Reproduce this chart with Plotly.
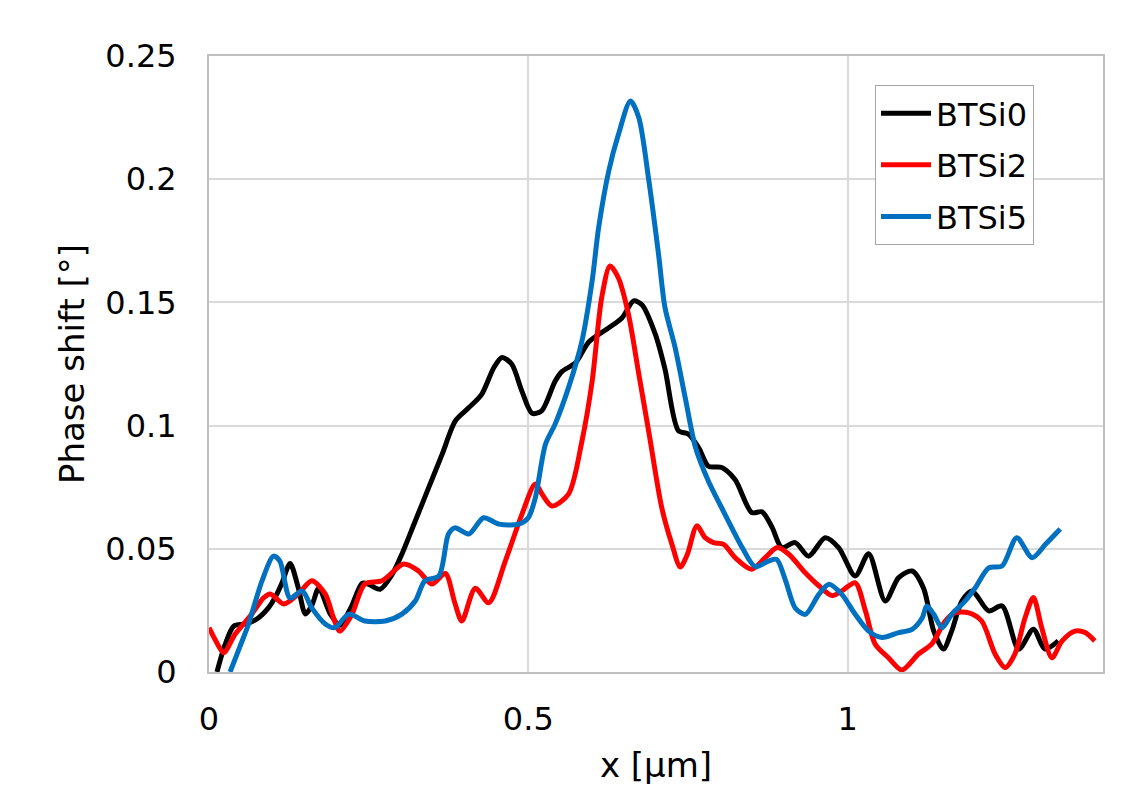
import plotly.graph_objects as go

# ---- data ----
x_btsi0 = [0.0125, 0.025, 0.039, 0.057, 0.075, 0.093, 0.105, 0.114, 0.127, 0.14, 0.151, 0.161, 0.172, 0.19,
           0.205, 0.222, 0.24, 0.25, 0.268, 0.287, 0.302, 0.323, 0.344, 0.365, 0.386, 0.407, 0.427, 0.446,
           0.459, 0.474, 0.49, 0.506, 0.521, 0.542, 0.553, 0.574, 0.595, 0.626, 0.647, 0.665, 0.678, 0.699,
           0.714, 0.735, 0.751, 0.767, 0.782, 0.803, 0.824, 0.85, 0.866, 0.882, 0.897, 0.918, 0.939, 0.965,
           0.986, 1.012, 1.033, 1.059, 1.08, 1.101, 1.119, 1.135, 1.15, 1.163, 1.179, 1.195, 1.221, 1.242,
           1.268, 1.291, 1.309, 1.33]
y_btsi0 = [0.0, 0.011, 0.0187, 0.0195, 0.0215, 0.026, 0.031, 0.036, 0.044, 0.034, 0.0235, 0.027, 0.034, 0.0235,
           0.019, 0.026, 0.036, 0.0356, 0.0336, 0.0397, 0.0478, 0.0613, 0.0748, 0.0883, 0.102, 0.1073, 0.1127,
           0.1235, 0.1276, 0.125, 0.114, 0.105, 0.106, 0.118, 0.122, 0.1255, 0.134, 0.1397, 0.1438, 0.1506,
           0.149, 0.137, 0.123, 0.098, 0.0965, 0.091, 0.0835, 0.083, 0.078, 0.0647, 0.065, 0.0586, 0.0505,
           0.0525, 0.047, 0.0545, 0.0505, 0.039, 0.048, 0.0288, 0.0383, 0.041, 0.034, 0.0166, 0.0093, 0.0166,
           0.0288, 0.0329, 0.0248, 0.0268, 0.0093, 0.0174, 0.0093, 0.0126]

x_btsi2 = [0.0, 0.012, 0.023, 0.041, 0.067, 0.085, 0.096, 0.117, 0.14, 0.161, 0.182, 0.195, 0.205, 0.224,
           0.244, 0.271, 0.305, 0.328, 0.349, 0.37, 0.385, 0.396, 0.417, 0.438, 0.464, 0.49, 0.511, 0.522,
           0.537, 0.563, 0.584, 0.6, 0.615, 0.628, 0.641, 0.657, 0.673, 0.689, 0.709, 0.725, 0.738, 0.749,
           0.764, 0.777, 0.79, 0.806, 0.824, 0.85, 0.871, 0.89, 0.908, 0.933, 0.955, 0.976, 0.991, 1.012,
           1.028, 1.043, 1.064, 1.085, 1.111, 1.132, 1.153, 1.168, 1.19, 1.21, 1.231, 1.247, 1.262, 1.278,
           1.291, 1.304, 1.32, 1.336, 1.356, 1.372, 1.387]
y_btsi2 = [0.018, 0.012, 0.0078, 0.0154, 0.0235, 0.030, 0.0317, 0.0276, 0.0317, 0.037, 0.0317, 0.022, 0.0166,
           0.0235, 0.0357, 0.037, 0.0438, 0.041, 0.0357, 0.0400, 0.028, 0.0207, 0.034, 0.0281, 0.045, 0.064,
           0.0763, 0.072, 0.0674, 0.0722, 0.0937, 0.118, 0.152, 0.1648, 0.16, 0.145, 0.121, 0.097, 0.0667,
           0.0518, 0.0426, 0.0477, 0.0593, 0.0545, 0.0525, 0.0518, 0.0464, 0.0417, 0.0464, 0.0505, 0.0478,
           0.0405, 0.035, 0.031, 0.0329, 0.0362, 0.0248, 0.0114, 0.0058, 0.0008, 0.0073, 0.0114, 0.0207,
           0.024, 0.024, 0.0207, 0.0073, 0.0018, 0.0073, 0.022, 0.0302, 0.018, 0.0058, 0.0126, 0.0166, 0.016,
           0.0126]

x_btsi5 = [0.033, 0.048, 0.062, 0.083, 0.101, 0.111, 0.127, 0.146, 0.161, 0.182, 0.197, 0.219, 0.244, 0.276,
           0.302, 0.323, 0.338, 0.36, 0.375, 0.385, 0.407, 0.43, 0.454, 0.485, 0.5, 0.511, 0.527, 0.542,
           0.563, 0.584, 0.6, 0.61, 0.626, 0.641, 0.66, 0.673, 0.689, 0.704, 0.714, 0.73, 0.746, 0.762,
           0.782, 0.808, 0.835, 0.855, 0.876, 0.889, 0.903, 0.918, 0.934, 0.955, 0.971, 0.991, 1.012, 1.033,
           1.054, 1.08, 1.101, 1.117, 1.124, 1.135, 1.148, 1.163, 1.184, 1.2, 1.221, 1.242, 1.265, 1.289,
           1.31, 1.333]
y_btsi5 = [0.0, 0.01, 0.0195, 0.037, 0.047, 0.045, 0.030, 0.0329, 0.026, 0.0195, 0.018, 0.0235, 0.0207, 0.0207,
           0.0235, 0.0288, 0.037, 0.0390, 0.056, 0.0585, 0.056, 0.0626, 0.06, 0.06, 0.0626, 0.0707, 0.0925,
           0.1006, 0.1154, 0.1343, 0.1587, 0.180, 0.2033, 0.218, 0.2317, 0.225, 0.199, 0.1695, 0.148, 0.1316,
           0.111, 0.091, 0.0775, 0.064, 0.0505, 0.0428, 0.045, 0.0457, 0.037, 0.026, 0.0234, 0.0315, 0.0356,
           0.0315, 0.0234, 0.0166, 0.014, 0.016, 0.0173, 0.022, 0.0268, 0.0234, 0.018, 0.0234, 0.0288, 0.0342,
           0.0423, 0.043, 0.0545, 0.0464, 0.0518, 0.058]

series = [
    ("BTSi0", x_btsi0, y_btsi0, "#000000"),
    ("BTSi2", x_btsi2, y_btsi2, "#ff0000"),
    ("BTSi5", x_btsi5, y_btsi5, "#0070c0"),
]

FONT = "DejaVu Sans"

fig = go.Figure()
for name, xs, ys, color in series:
    fig.add_trace(go.Scatter(
        x=xs, y=ys, name=name, mode="lines", legendgroup=name,
        line=dict(color=color, width=5, shape="spline", smoothing=0.8),
    ))

fig.update_layout(
    width=1146, height=791,
    margin=dict(l=201, r=51, t=48, b=127, autoexpand=False),
    paper_bgcolor="white", plot_bgcolor="white",
    font=dict(family=FONT, color="#000000"),
    showlegend=True,
    legend=dict(
        x=0.745, y=0.953, xanchor="left", yanchor="top",
        bgcolor="white", bordercolor="#a6a6a6", borderwidth=1,
        font=dict(family=FONT, size=32, color="#000000"),
        traceorder="grouped", tracegroupgap=7,
        itemwidth=50,
    ),
)

fig.update_xaxes(
    range=[0, 1.4], tickvals=[0, 0.5, 1], ticktext=["0", "0.5", "1"],
    showgrid=True, gridcolor="#d9d9d9", gridwidth=1.5,
    showline=True, linecolor="#bfbfbf", linewidth=2, mirror=True,
    ticks="", ticklabelstandoff=18, zeroline=False,
    tickfont=dict(family=FONT, size=32),
    title=dict(text="x [µm]", font=dict(family=FONT, size=34), standoff=16),
)
fig.update_yaxes(
    range=[0, 0.25], tickvals=[0, 0.05, 0.1, 0.15, 0.2, 0.25],
    ticktext=["0", "0.05", "0.1", "0.15", "0.2", "0.25"],
    showgrid=True, gridcolor="#d9d9d9", gridwidth=1.5,
    showline=True, linecolor="#bfbfbf", linewidth=2, mirror=True,
    ticks="", ticklabelstandoff=24, zeroline=False,
    tickfont=dict(family=FONT, size=32),
    title=dict(text="Phase shift [°]", font=dict(family=FONT, size=34), standoff=10),
)

fig.write_html("out.html")
